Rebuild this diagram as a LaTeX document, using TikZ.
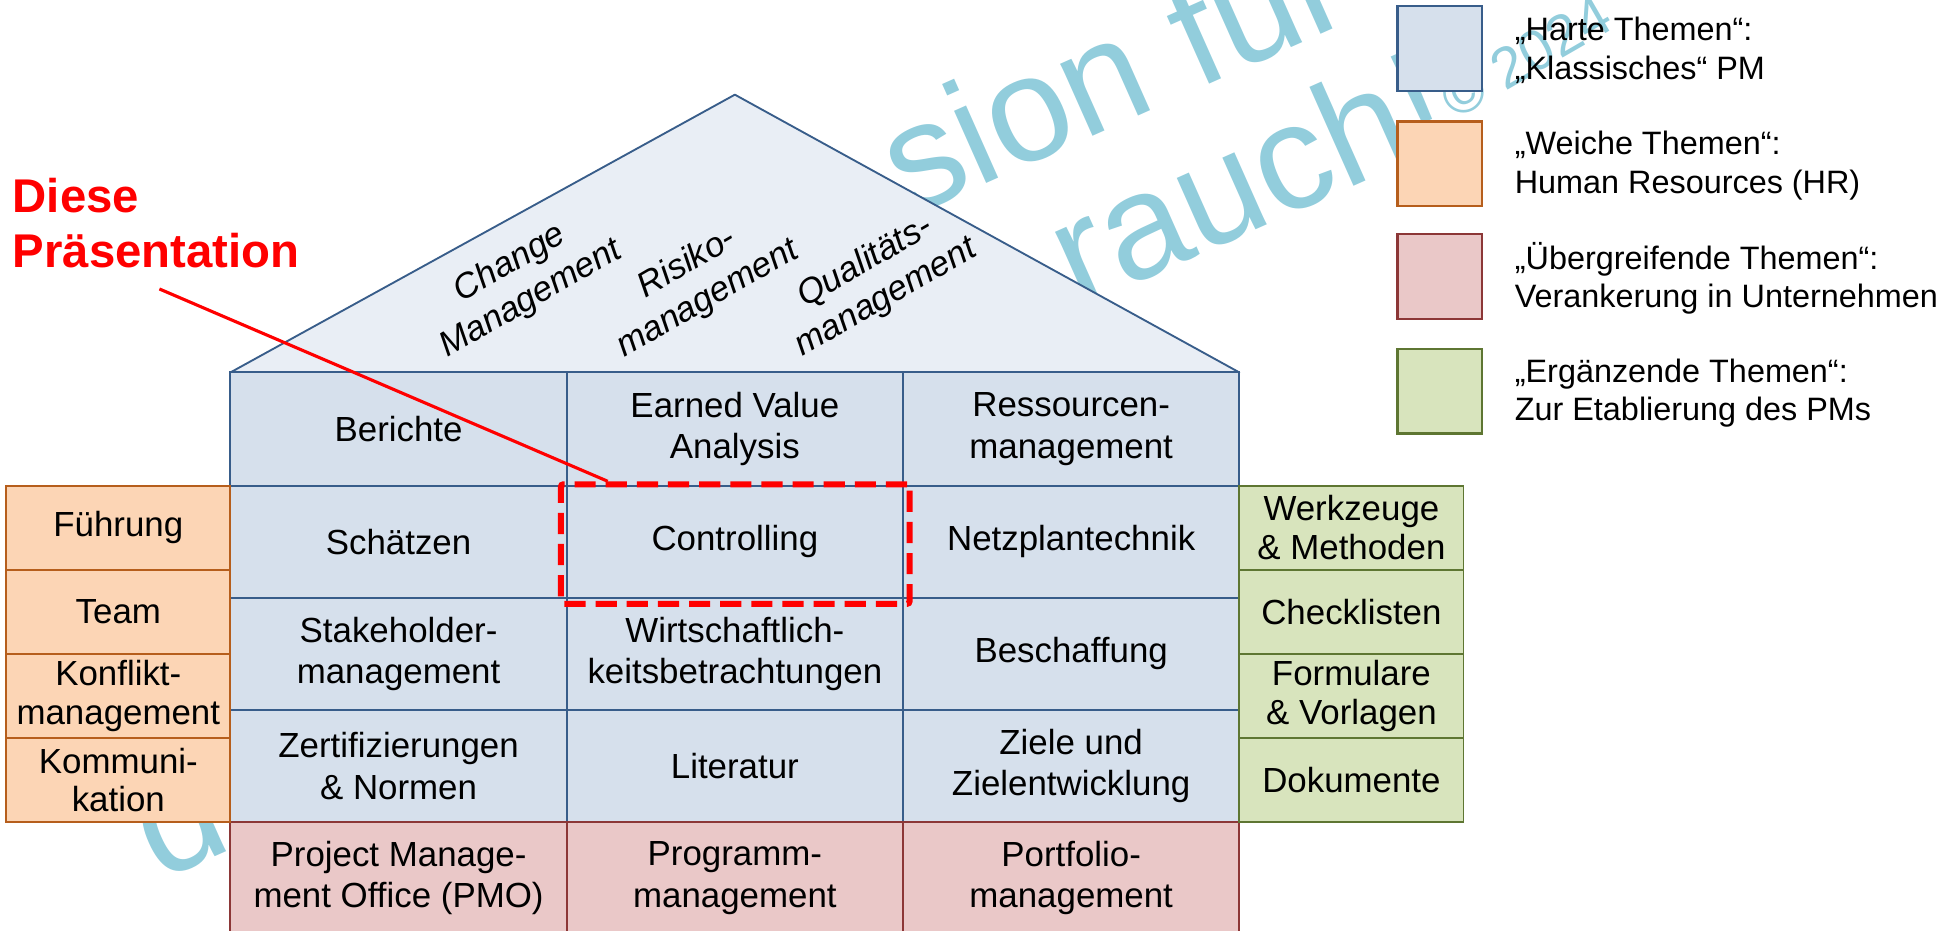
\documentclass[tikz,border=0pt]{standalone}
\usepackage{fontspec}
\setmainfont{Liberation Sans}
\definecolor{markblue}{RGB}{146,205,220}
\definecolor{hardfill}{RGB}{214,224,236}
\definecolor{rooffill}{RGB}{233,238,245}
\definecolor{hardline}{RGB}{56,93,138}
\definecolor{softfill}{RGB}{252,213,181}
\definecolor{softline}{RGB}{182,94,28}
\definecolor{crossfill}{RGB}{234,200,200}
\definecolor{crossline}{RGB}{140,55,55}
\definecolor{addfill}{RGB}{216,228,189}
\definecolor{addline}{RGB}{94,118,50}
\definecolor{hotred}{RGB}{255,0,0}

\begin{document}
\begin{tikzpicture}[x=1pt,y=-1pt,
  wmark/.style={text=markblue,inner sep=0pt,anchor=base west,rotate=24,
                font=\fontsize{120}{120}\selectfont},
  roof/.style={draw=hardline,fill=rooffill,line width=1.5pt,line join=round},
  hardcell/.style={draw=hardline,fill=hardfill,line width=1.5pt,
                   minimum width=270pt,minimum height=90pt,inner sep=0pt,
                   align=center,font=\fontsize{28}{33}\selectfont},
  crosscell/.style={hardcell,draw=crossline,fill=crossfill},
  softcell/.style={hardcell,draw=softline,fill=softfill,minimum width=180pt,
                   minimum height=67.5pt,font=\fontsize{28}{31}\selectfont},
  addcell/.style={softcell,draw=addline,fill=addfill},
  pillar/.style={rotate=30,inner sep=0pt,align=center,
                 font=\fontsize{28}{33}\selectfont\itshape},
  keybox/.style={minimum size=68pt,inner sep=0pt,line width=1.8pt},
  keytext/.style={anchor=west,inner sep=0pt,align=left,
                  font=\fontsize{26}{31}\selectfont},
  focus/.style={draw=hotred,line width=4.8pt,dash pattern=on 17pt off 8pt,
                rounded corners=2pt,minimum width=280pt,minimum height=96pt}]
  \useasboundingbox (0,0) rectangle (1568,747);

  % watermark fragments, behind the house
  \node[wmark] (wm1) at (730,175) {sion für};
  \node[wmark] (wm2) at (866,248) {rauch!};
  \node[wmark] (wm3) at (128,708) {d};
  \node[wmark,rotate=6,font=\fontsize{46}{46}\selectfont] (wm4) at (1168,97) {© 2024};

  % roof
  \coordinate (apex) at (590,76);
  \draw[roof] (185,299) -- (apex) -- (995,299) -- cycle;
  \node[pillar] (p1) at (418,226) {Change\\Management};
  \node[pillar] (p2) at (560,226) {Risiko-\\management};
  \node[pillar] (p3) at (703,225) {Qualitäts-\\management};

  % house body, hard topics
  \node[hardcell,minimum height=91pt] (c11) at (320,344.5) {Berichte};
  \node[hardcell,minimum height=91pt] (c12) at (590,344.5) {Earned Value\\Analysis};
  \node[hardcell,minimum height=91pt] (c13) at (860,344.5) {Ressourcen-\\management};
  \node[hardcell] (c21) at (320,435) {Schätzen};
  \node[hardcell] (c22) at (590,435) {Controlling};
  \node[hardcell] (c23) at (860,435) {Netzplantechnik};
  \node[hardcell] (c31) at (320,525) {Stakeholder-\\management};
  \node[hardcell] (c32) at (590,525) {Wirtschaftlich-\\keitsbetrachtungen};
  \node[hardcell] (c33) at (860,525) {Beschaffung};
  \node[hardcell] (c41) at (320,615) {Zertifizierungen\\\& Normen};
  \node[hardcell] (c42) at (590,615) {Literatur};
  \node[hardcell] (c43) at (860,615) {Ziele und\\Zielentwicklung};
  % foundation, cross topics
  \node[crosscell] (c51) at (320,705) {Project Manage-\\ment Office (PMO)};
  \node[crosscell] (c52) at (590,705) {Programm-\\management};
  \node[crosscell] (c53) at (860,705) {Portfolio-\\management};

  % side wings
  \node[softcell] (s1) at (95,423.75) {Führung};
  \node[softcell] (s2) at (95,491.25) {Team};
  \node[softcell] (s3) at (95,558.75) {Konflikt-\\management};
  \node[softcell] (s4) at (95,626.25) {Kommuni-\\kation};
  \node[addcell] (a1) at (1085,423.75) {Werkzeuge\\\& Methoden};
  \node[addcell] (a2) at (1085,491.25) {Checklisten};
  \node[addcell] (a3) at (1085,558.75) {Formulare\\\& Vorlagen};
  \node[addcell] (a4) at (1085,626.25) {Dokumente};

  % legend
  \node[keybox,draw=hardline,fill=hardfill] (k1) at (1156,39) {};
  \node[keybox,draw=softline,fill=softfill] (k2) at (1156,131.5) {};
  \node[keybox,draw=crossline,fill=crossfill] (k3) at (1156,222) {};
  \node[keybox,draw=addline,fill=addfill] (k4) at (1156,314) {};
  \node[keytext] (t1) at (1216,40.5) {„Harte Themen“:\\„Klassisches“ PM};
  \node[keytext] (t2) at (1216,133) {„Weiche Themen“:\\Human Resources (HR)};
  \node[keytext] (t3) at (1216,223.5) {„Übergreifende Themen“:\\Verankerung in Unternehmen};
  \node[keytext] (t4) at (1216,315.5) {„Ergänzende Themen“:\\Zur Etablierung des PMs};

  % pointer to this talk
  \node[focus] (focus) at (590.3,436.8) {};
  \node[anchor=north west,inner sep=0pt,align=left,text=hotred,
        font=\fontsize{38}{44}\selectfont\bfseries] (talk) at (10,143)
        {Diese\\Präsentation};
  \coordinate (hint) at (128,232);
  \draw[hotred,line width=2.5pt] (hint) -- ([xshift=40pt]focus.north west);
\end{tikzpicture}
\end{document}
